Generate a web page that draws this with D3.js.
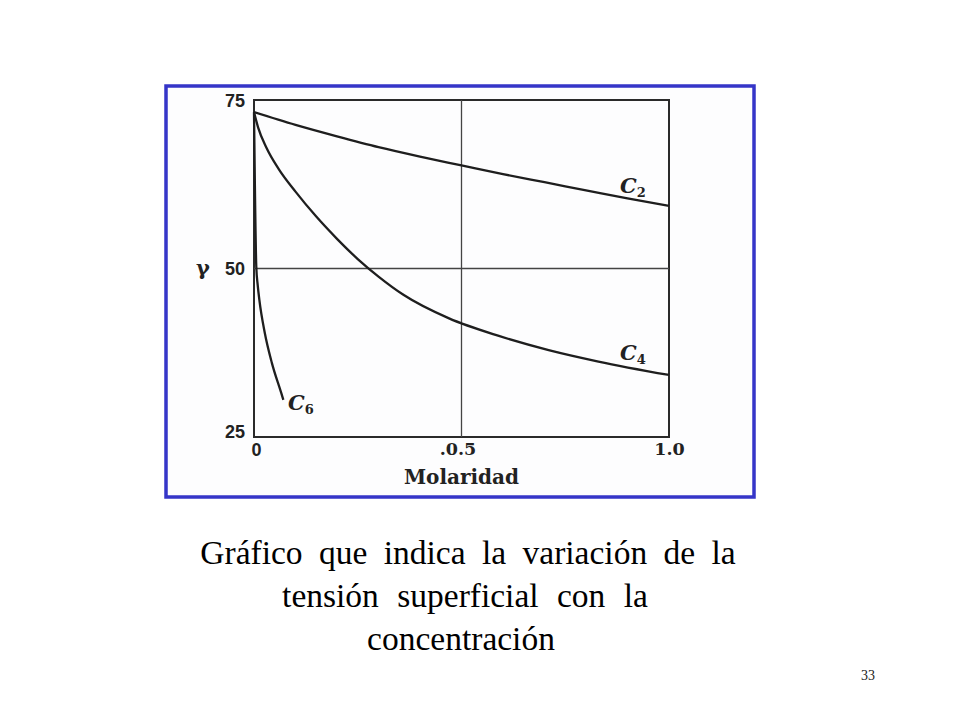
<!DOCTYPE html>
<html>
<head>
<meta charset="utf-8">
<script src="https://cdn.jsdelivr.net/npm/d3@7"></script>
<style>
  html, body { margin: 0; padding: 0; background: #ffffff; }
  svg { display: block; }
</style>
</head>
<body>
<svg id="chart" width="960" height="720"></svg>
<script>
// ---- data ----
const xTicks = [0, 0.5, 1.0];
const xTickLabels = ["0", ".0.5", "1.0"];
const yTicks = [25, 50, 75];
const yTickLabels = ["25", "50", "75"];
const xTitle = "Molaridad";
const yTitle = "\u03b3";

const c2Molar = [0, 0.1, 0.2, 0.3, 0.4, 0.5, 0.6, 0.7, 0.8, 0.9, 1.0];
const c2Gamma = [73.2, 71.3, 69.6, 68.0, 66.6, 65.3, 64.0, 62.8, 61.6, 60.4, 59.3];

const c4Molar = [0, 0.01, 0.03, 0.06, 0.1, 0.15, 0.2, 0.25, 0.3, 0.36, 0.47, 0.59, 0.71, 0.83, 1.0];
const c4Gamma = [73.2, 70.9, 67.9, 64.7, 61.4, 57.7, 54.4, 51.4, 48.8, 46.1, 42.6, 40.0, 37.9, 36.2, 34.2];

const c6Molar = [0, 0.002, 0.0055, 0.009, 0.013, 0.0258, 0.043, 0.0658, 0.0707];
const c6Gamma = [73.2, 63.0, 50.3, 47.5, 45.3, 40.5, 36.0, 31.5, 30.5];

const seriesNames = ["C2", "C4", "C6"];
const captionLines = ["Gr\u00e1fico que indica la variaci\u00f3n de la",
                      "tensi\u00f3n superficial con la",
                      "concentraci\u00f3n"];
const pageNumber = "33";

// ---- drawing ----
const svg = d3.select("#chart");

// blue border of the pasted figure
svg.append("rect")
  .attr("x", 166).attr("y", 86).attr("width", 588).attr("height", 411)
  .attr("fill", "#fdfdfe").attr("stroke", "#3535c8").attr("stroke-width", 3.5);

const x = d3.scaleLinear().domain([0, 1]).range([254, 669]);
const y = d3.scaleLinear().domain([25, 75]).range([437, 100]);

const ink = "#2a2a2a";

// frame
svg.append("rect")
  .attr("x", x(0)).attr("y", y(75))
  .attr("width", x(1) - x(0)).attr("height", y(25) - y(75))
  .attr("fill", "none").attr("stroke", ink).attr("stroke-width", 2);

// grid lines at 0.5 and 50
svg.append("line")
  .attr("x1", x(0.5)).attr("x2", x(0.5)).attr("y1", y(75)).attr("y2", y(25))
  .attr("stroke", "#444").attr("stroke-width", 1.3);
svg.append("line")
  .attr("x1", x(0)).attr("x2", x(1)).attr("y1", y(50)).attr("y2", y(50))
  .attr("stroke", "#444").attr("stroke-width", 1.3);

// y axis labels
const yAxis = d3.axisLeft(y).tickValues(yTicks)
  .tickFormat((d, i) => yTickLabels[i]).tickSize(0).tickPadding(9);
const gy = svg.append("g").attr("transform", `translate(${x(0)},0)`).call(yAxis);
gy.select(".domain").remove();
gy.selectAll("text")
  .attr("font-family", "'Liberation Sans', Arial, sans-serif")
  .attr("font-weight", "bold").attr("font-size", 18).attr("fill", "#222")
  .attr("dy", (d) => d === 25 ? "0.05em" : "0.34em");

// x axis labels
const xAxis = d3.axisBottom(x).tickValues(xTicks)
  .tickFormat((d, i) => xTickLabels[i]).tickSize(0).tickPadding(6);
const gx = svg.append("g").attr("transform", `translate(0,${y(25)})`).call(xAxis);
gx.select(".domain").remove();
gx.selectAll("text")
  .attr("font-family", (d) => d === 0 ? "'Liberation Sans', Arial, sans-serif" : "'DejaVu Serif', serif")
  .attr("font-weight", "bold").attr("font-size", (d) => d === 0 ? 18 : 17.5).attr("fill", "#222")
  .attr("dx", (d) => d === 0.5 ? -4 : (d === 0 ? 2 : 0));

// axis titles
svg.append("text")
  .attr("x", x(0.5)).attr("y", 484)
  .attr("text-anchor", "middle")
  .attr("font-family", "'DejaVu Serif', serif").attr("font-weight", "bold")
  .attr("font-size", 20).attr("fill", "#222")
  .text(xTitle);
svg.append("text")
  .attr("x", 203).attr("y", y(50) + 6)
  .attr("text-anchor", "middle")
  .attr("font-family", "'DejaVu Serif', serif").attr("font-weight", "bold")
  .attr("font-size", 21).attr("fill", "#222")
  .text(yTitle);

// curves
const line = d3.line().x(d => x(d[0])).y(d => y(d[1])).curve(d3.curveMonotoneX);
const curves = [
  d3.zip(c2Molar, c2Gamma),
  d3.zip(c4Molar, c4Gamma),
  d3.zip(c6Molar, c6Gamma)
];
svg.selectAll("path.curve").data(curves).enter().append("path")
  .attr("class", "curve")
  .attr("d", line)
  .attr("fill", "none").attr("stroke", "#1e1e1e").attr("stroke-width", 2.3);

// curve labels
const labelPos = [
  { mx: 0.882, g: 61.2 },
  { mx: 0.882, g: 36.4 },
  { mx: 0.082, g: 29.0 }
];
seriesNames.forEach((name, i) => {
  const t = svg.append("text")
    .attr("x", x(labelPos[i].mx)).attr("y", y(labelPos[i].g))
    .attr("font-family", "'DejaVu Serif', serif").attr("font-weight", "bold")
    .attr("fill", "#222");
  t.append("tspan").attr("font-style", "italic").attr("font-size", 21).text(name[0]);
  t.append("tspan").attr("font-size", 13).attr("dy", 4).text(name.slice(1));
});

// caption
const capX = [468, 465, 461];
const capSpacing = [8, 10, 0];
svg.selectAll("text.caption").data(captionLines).enter().append("text")
  .attr("class", "caption")
  .attr("x", (d, i) => capX[i]).attr("y", (d, i) => 564 + i * 43)
  .attr("text-anchor", "middle")
  .attr("font-family", "'Liberation Serif', 'Times New Roman', serif")
  .attr("font-size", 33.5).attr("fill", "#000")
  .attr("word-spacing", (d, i) => capSpacing[i])
  .text(d => d);

svg.append("text")
  .attr("x", 868).attr("y", 680)
  .attr("text-anchor", "middle")
  .attr("font-family", "'Liberation Serif', 'Times New Roman', serif")
  .attr("font-size", 14).attr("fill", "#222")
  .text(pageNumber);
</script>
</body>
</html>
